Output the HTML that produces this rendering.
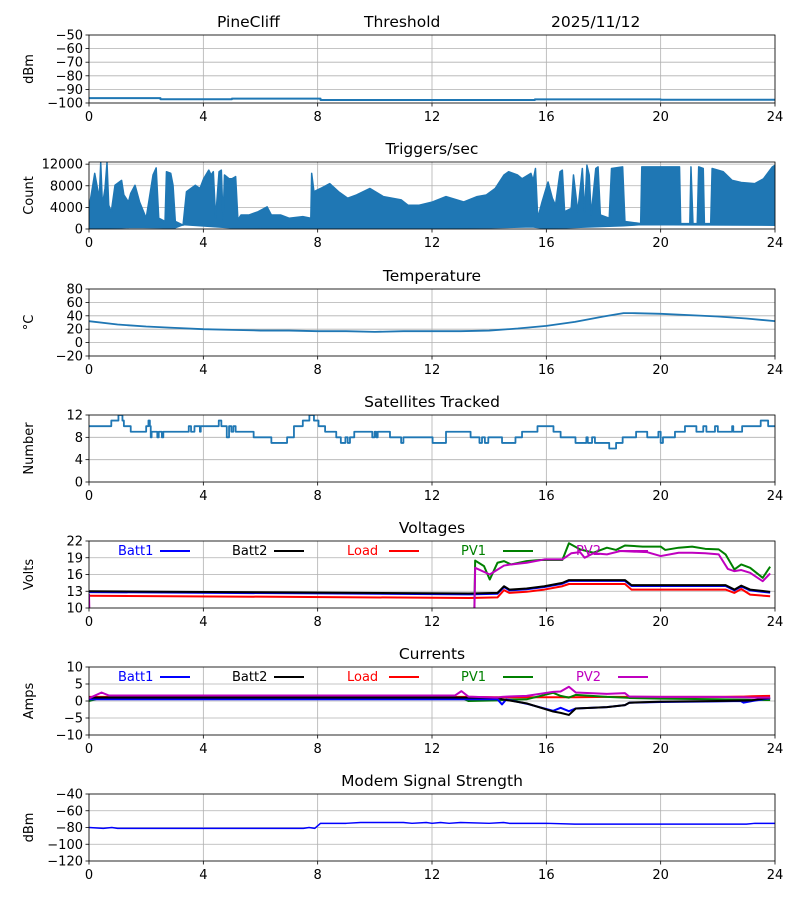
<!DOCTYPE html>
<html><head><meta charset="utf-8"><style>
body{margin:0;background:#fff;}
svg{display:block;font-family:"DejaVu Sans","Liberation Sans",sans-serif;}
</style></head><body>
<svg id="fig" width="800" height="900" viewBox="0 0 800 900" xmlns="http://www.w3.org/2000/svg">
<rect width="800" height="900" fill="#fff"/>
<text x="217" y="27" font-size="15.5">PineCliff</text>
<text x="364" y="27" font-size="15.5">Threshold</text>
<text x="551" y="27" font-size="15.5">2025/11/12</text>
</svg>
<script>
// ---- data arrays ----
const xTicks = [0,4,8,12,16,20,24];
const dbmHours = [0,2.4,2.5,4,5,8,8.1,15.5,15.6,20,24];
const dbmVals = [-96.4,-96.4,-97.2,-97.2,-96.8,-96.8,-97.8,-97.8,-97.3,-97.6,-97.6];
const trigHours = [0,0.2,0.36,0.41,0.47,0.56,0.63,0.69,0.78,0.91,1.14,1.22,1.38,1.46,1.61,1.77,2.0,2.24,2.35,2.44,2.66,2.71,2.86,2.94,3.02,3.29,3.41,3.72,3.88,4.01,4.19,4.27,4.35,4.43,4.55,4.63,4.69,4.74,4.9,5.0,5.13,5.21,5.32,5.6,5.92,6.23,6.38,6.7,7.0,7.48,7.76,7.79,7.87,8.1,8.42,8.73,9.05,9.36,9.83,10.3,10.92,11.16,11.55,12.02,12.49,13.11,13.58,13.9,14.21,14.52,14.68,14.99,15.15,15.46,15.54,15.62,15.7,15.85,16.06,16.21,16.32,16.48,16.56,16.64,16.87,16.95,17.1,17.26,17.34,17.42,17.5,17.57,17.73,17.81,17.89,18.2,18.28,18.67,18.75,19.3,19.34,20.66,20.7,21.02,21.06,21.13,21.28,21.33,21.49,21.53,21.75,21.8,22.19,22.5,22.82,23.29,23.6,23.91,24];
const trigUpper = [3800,10300,5700,12300,4400,7500,12300,4400,3200,8100,9000,6300,5000,6600,8100,5000,2000,10000,11300,2000,1400,10600,10300,8100,1400,700,6900,8100,7500,9300,10900,10000,10600,2000,10600,10900,1700,10000,9300,9300,9700,1700,2600,2600,3200,4100,2600,2600,2000,2300,2000,10300,6900,7500,8400,6900,5700,6300,7500,6000,5400,4400,4400,5000,6000,5000,6000,6300,7500,10000,10600,10000,9300,10300,9000,11200,2000,5000,8700,5700,4400,10600,10900,3200,3800,10000,3200,11200,3200,11800,10000,2600,11200,11500,2600,2000,11200,11500,1400,1000,11500,11500,1000,1000,11500,1000,1000,11500,11200,1000,1000,11200,10600,9000,8600,8400,9300,11500,11800];
const trigLowHours = [0,1.5,3.0,3.3,5.0,7.7,8,12,15.5,16,18.7,19.3,24];
const trigLowVals = [0,300,200,800,200,100,0,0,400,100,600,800,700];
const tempHours = [0,1,2,3,4,5,6,7,8,9,10,11,12,13,14,15,16,17,18,18.7,19,20,21,22,23,24];
const tempVals = [32,27,24,22,20,19,18,18,17,17,16,17,17,17,18,21,25,31,39,44,44,43,41,39,36,32];
const satHours = [0,0.78,1.03,1.17,1.22,1.46,2.0,2.08,2.13,2.16,2.19,2.39,2.44,2.55,2.6,3.49,3.57,3.69,3.88,3.91,4.54,4.63,4.82,4.9,4.98,5.05,5.13,5.76,6.38,6.93,7.17,7.48,7.71,7.87,8.03,8.26,8.65,8.81,8.97,9.05,9.13,9.28,9.91,9.99,10.05,10.1,10.53,10.92,11.0,12.02,12.49,13.35,13.66,13.75,13.85,13.97,14.45,14.92,15.15,15.69,16.25,16.5,17.02,17.4,17.45,17.6,17.7,18.2,18.44,18.67,19.14,19.53,19.92,20.0,20.08,20.5,20.85,21.25,21.49,21.6,21.9,22.0,22.5,22.54,22.85,23.5,23.76,24];
const satVals = [10,11,12,11,10,9,10,11,10,8,9,8,9,8,9,10,9,10,9,10,11,10,8,10,9,10,9,8,7,8,10,11,12,11,10,9,8,7,8,7,8,9,8,9,8,9,8,7,8,7,9,8,7,8,7,8,7,8,9,10,9,8,7,8,7,8,7,6,7,8,9,8,9,7,8,9,10,9,10,9,10,9,10,9,10,11,10,10];
const battHours = [0,13.3,14.29,14.52,14.71,15.31,15.93,16.56,16.79,18.75,18.98,22.27,22.58,22.82,23.13,23.83];
const batt2Volts = [13.0,12.6,12.7,13.9,13.3,13.5,13.9,14.5,15.0,15.0,14.1,14.1,13.3,14.0,13.3,12.9];
const batt1Volts = [12.85,12.45,12.55,13.75,13.15,13.35,13.75,14.35,14.85,14.85,13.95,13.95,13.15,13.85,13.15,12.75];
const loadVolts = [12.2,11.8,11.9,13.2,12.7,12.9,13.3,13.9,14.3,14.3,13.3,13.3,12.7,13.4,12.4,12.1];
const pv1Hours = [0,0.05,13.45,13.51,13.82,14.02,14.29,14.52,14.76,15.31,15.77,16.56,16.79,17.18,17.65,18.12,18.44,18.75,19.37,20.0,20.16,20.63,21.1,21.56,22.03,22.27,22.58,22.82,23.13,23.57,23.83];
const pv1Volts = [10.5,0,0,18.5,17.5,15.1,18.1,18.4,17.8,18.4,18.6,18.6,21.6,20.5,19.9,20.8,20.4,21.2,21.0,21.0,20.4,20.8,21.0,20.6,20.5,19.6,16.9,17.8,17.2,15.4,17.4];
const pv2Hours = [0,0.05,13.45,13.51,14.02,14.52,14.76,15.31,15.93,16.56,16.87,17.18,17.34,17.65,18.12,18.59,19.53,20.0,20.63,21.1,21.56,22.03,22.35,22.58,22.82,23.13,23.57,23.83];
const pv2Volts = [12.5,0,0,17.2,16.0,17.6,17.8,18.1,18.7,18.7,19.8,20.0,19.0,19.8,19.6,20.2,20.0,19.3,19.9,19.9,19.8,19.6,17.0,16.6,16.8,16.3,14.8,16.2];
const curHours = [0,0.44,0.7,12.8,13.03,13.27,14.29,14.45,14.6,15.31,16.24,16.5,16.79,17.03,18.12,18.75,18.9,20.0,22.0,22.8,22.9,23.2,23.83];
const pv2Amps = [0.8,2.5,1.6,1.6,2.9,1.3,1.0,1.2,1.3,1.5,2.7,2.8,4.2,2.5,2.1,2.3,1.3,1.2,1.2,1.1,1.1,1.0,1.0];
const pv1Amps = [0,1.0,1.0,1.0,1.0,0,0.2,0.3,0.4,0.5,2.4,1.5,1.0,1.8,1.2,1.0,0.9,0.7,0.5,0.4,0.4,0.3,0.3];
const loadAmps = [1.2,1.2,1.2,1.2,1.2,1.2,1.1,1.1,1.1,1.1,1.1,1.1,1.1,1.1,1.2,1.2,1.2,1.2,1.2,1.3,1.3,1.4,1.5];
const batt2Amps = [1.0,1.0,1.0,1.0,1.0,1.0,1.0,0.5,0.3,-0.7,-3.1,-3.5,-4.1,-2.2,-1.8,-1.2,-0.5,-0.2,0,0.1,0.1,0.2,1.0];
const batt1Amps = [0.5,0.5,0.5,0.5,0.5,0.5,0.5,-1.0,0.5,-0.8,-2.9,-2.0,-3.0,-2.2,-1.8,-1.2,-0.5,-0.3,-0.1,0,-0.5,0,0.8];
const modemHours = [0,0.5,0.8,1,7.5,7.7,7.9,8.1,9,9.5,11,11.3,11.8,12,12.3,12.6,13,14,14.5,14.7,16,17,21,23,23.3,24];
const modemVals = [-80,-81,-80,-81,-81,-80,-81,-75,-75,-74,-74,-75,-74,-75,-74,-75,-74,-75,-74,-75,-75,-76,-76,-76,-75,-75];
const legendLabels = ["Batt1","Batt2","Load","PV1","PV2"];
const legendColors = ["#0000ff","#000000","#ff0000","#008000","#bf00bf"];

const NS="http://www.w3.org/2000/svg";
const svg=document.getElementById('fig');
const X0=89,X1=775;
function mk(tag,attrs,parent){const e=document.createElementNS(NS,tag);for(const k in attrs)e.setAttribute(k,attrs[k]);(parent||svg).appendChild(e);return e;}
function xs(h){return X0+(h/24)*(X1-X0);}

function panel(key,top,bot,ymin,ymax,yticks,ylabel,title){
  const g=mk('g',{});
  
  
  const ys=v=>bot-(v-ymin)/(ymax-ymin)*(bot-top);
  const cid='clip-'+key;
  const cp=mk('clipPath',{id:cid},g);mk('rect',{x:X0,y:top,width:X1-X0,height:bot-top},cp);
  xTicks.forEach(t=>{
    const l=mk('line',{x1:xs(t),x2:xs(t),y1:top,y2:bot,stroke:'#b0b0b0','stroke-width':0.8},g);
    
    
    mk('line',{x1:xs(t),x2:xs(t),y1:bot,y2:bot+3.5,stroke:'#000','stroke-width':0.8},g);
    const tx=mk('text',{x:xs(t),y:bot+18,'font-size':13,'text-anchor':'middle'},g);tx.textContent=t;
    
    
  });
  yticks.forEach(t=>{
    const l=mk('line',{x1:X0,x2:X1,y1:ys(t),y2:ys(t),stroke:'#b0b0b0','stroke-width':0.8},g);
    
    
    mk('line',{x1:X0-3.5,x2:X0,y1:ys(t),y2:ys(t),stroke:'#000','stroke-width':0.8},g);
    const tx=mk('text',{x:X0-6,y:ys(t)+4.5,'font-size':13,'text-anchor':'end'},g);tx.textContent=(t<0?'\u2212'+(-t):t);
    
    
  });
  const yl=mk('text',{x:0,y:0,'font-size':13,'text-anchor':'middle',transform:`translate(33,${(top+bot)/2}) rotate(-90)`},g);yl.textContent=ylabel;
  
  
  if(title){const tt=mk('text',{x:(X0+X1)/2,y:top-8,'font-size':15.5,'text-anchor':'middle'},g);tt.textContent=title;
    
    }
  const data=mk('g',{'clip-path':`url(#${cid})`},g);
  const frame=mk('rect',{x:X0,y:top,width:X1-X0,height:bot-top,fill:'none',stroke:'#000','stroke-width':0.8},g);
  
  
  return {ys,data,g};
}
function line(p,hs,vs,color,w,name,step){
  let pts=[];
  for(let i=0;i<hs.length;i++){
    if(step&&i>0)pts.push(xs(hs[i])+','+p.ys(vs[i-1]));
    pts.push(xs(hs[i])+','+p.ys(vs[i]));
  }
  if(step)pts.push(xs(24)+','+p.ys(vs[vs.length-1]));
  const l=mk('polyline',{points:pts.join(' '),fill:'none',stroke:color,'stroke-width':w,'stroke-linejoin':'round'},p.data);
  
  
  return l;
}
function legend(p,y){
  const tx=[118,232,347,461,576];
  legendLabels.forEach((lab,i)=>{
    const t=mk('text',{x:tx[i],y:y,'font-size':13,fill:legendColors[i]},p.g);t.textContent=lab;
    
    
    const l=mk('line',{x1:tx[i]+42,x2:tx[i]+72,y1:y-4,y2:y-4,stroke:legendColors[i],'stroke-width':2},p.g);
    
    
  });
}

const p1=panel('rssi',35,103,-100,-50,[-100,-90,-80,-70,-60,-50],'dBm',null);
line(p1,dbmHours,dbmVals,'#1f77b4',2,'rssi-line',true);

const p2=panel('triggers',162,229,0,12400,[0,4000,8000,12000],'Count','Triggers/sec');
{
  let pts=[];
  for(let i=0;i<trigHours.length;i++)pts.push(xs(trigHours[i])+','+p2.ys(trigUpper[i]));
  for(let i=trigLowHours.length-1;i>=0;i--)pts.push(xs(trigLowHours[i])+','+p2.ys(trigLowVals[i]));
  const a=mk('polygon',{points:pts.join(' '),fill:'#1f77b4',stroke:'#1f77b4','stroke-width':1.5,'stroke-linejoin':'round'},p2.data);
  
  
}

const p3=panel('temperature',289,356,-20,80,[-20,0,20,40,60,80],'\u00b0C','Temperature');
line(p3,tempHours,tempVals,'#1f77b4',1.8,'temperature-line',false);

const p4=panel('satellites',415,482,0,12,[0,4,8,12],'Number','Satellites Tracked');
line(p4,satHours,satVals,'#1f77b4',1.8,'satellites-line',true);

const p5=panel('voltages',541,608,10,22,[10,13,16,19,22],'Volts','Voltages');
line(p5,battHours,batt1Volts,'#0000ff',2,'batt1-voltage-line');
line(p5,battHours,batt2Volts,'#000000',2,'batt2-voltage-line');
line(p5,battHours,loadVolts,'#ff0000',2,'load-voltage-line');
line(p5,pv1Hours,pv1Volts,'#008000',2,'pv1-voltage-line');
line(p5,pv2Hours,pv2Volts,'#bf00bf',2,'pv2-voltage-line');
legend(p5,555);

const p6=panel('currents',667,735,-10,10,[-10,-5,0,5,10],'Amps','Currents');
line(p6,curHours,loadAmps,'#ff0000',2,'load-current-line');
line(p6,curHours,pv1Amps,'#008000',2,'pv1-current-line');
line(p6,curHours,batt1Amps,'#0000ff',2,'batt1-current-line');
line(p6,curHours,batt2Amps,'#000000',2,'batt2-current-line');
line(p6,curHours,pv2Amps,'#bf00bf',2,'pv2-current-line');
legend(p6,681);

const p7=panel('modem',794,861,-120,-40,[-120,-100,-80,-60,-40],'dBm','Modem Signal Strength');
line(p7,modemHours,modemVals,'#0000ff',1.5,'modem-signal-line',false);
</script>
</body></html>
